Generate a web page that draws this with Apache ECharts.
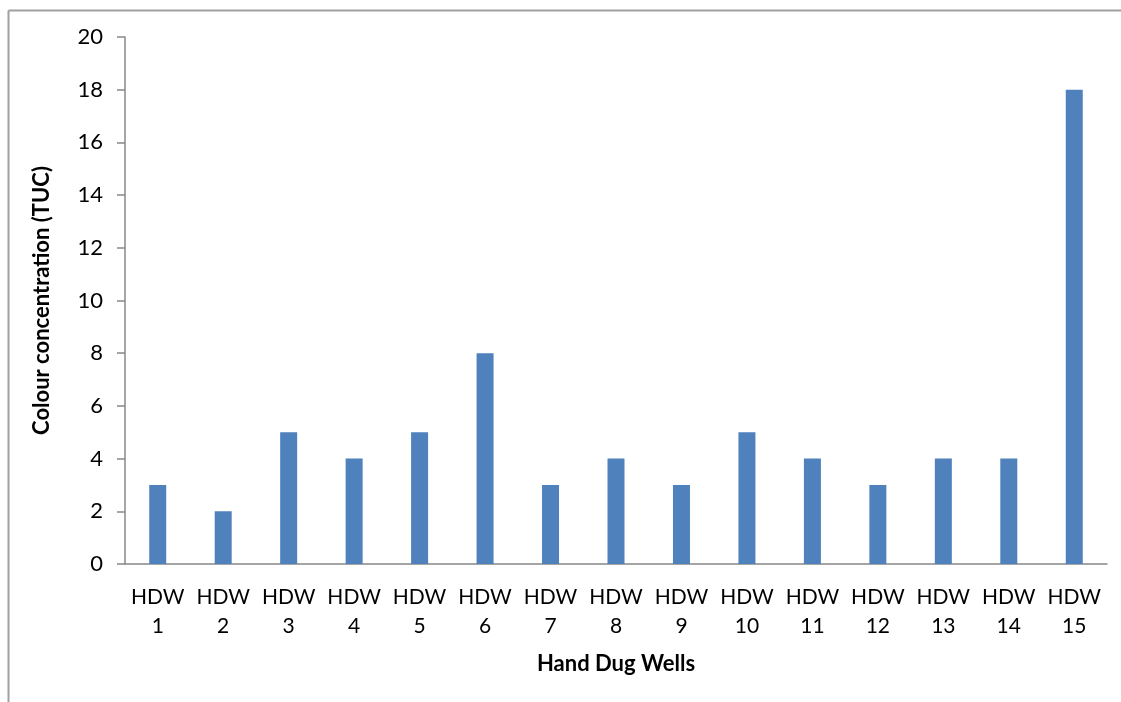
<!DOCTYPE html>
<html>
<head>
<meta charset="utf-8">
<script src="https://cdn.jsdelivr.net/npm/echarts@6/dist/echarts.min.js"></script>
<style>
html,body{margin:0;padding:0;background:#fff;}
#c{width:1121px;height:702px;}
</style>
</head>
<body>
<div id="c"></div>
<script>
const categories = ["HDW 1","HDW 2","HDW 3","HDW 4","HDW 5","HDW 6","HDW 7","HDW 8","HDW 9","HDW 10","HDW 11","HDW 12","HDW 13","HDW 14","HDW 15"];
const values = [3,2,5,4,5,8,3,4,3,5,4,3,4,4,18];
const yTitle = "Colour concentration (TUC)";
const xTitle = "Hand Dug Wells";

const chart = echarts.init(document.getElementById('c'));
const font = 'Lato, "Liberation Sans", sans-serif';
chart.setOption({
  animation: false,
  backgroundColor: '#fff',
  graphic: [
    {type:'line', shape:{x1:8.5,y1:10.5,x2:1121,y2:10.5}, style:{stroke:'#a0a0a0', lineWidth:2}},
    {type:'line', shape:{x1:8.5,y1:10.5,x2:8.5,y2:702}, style:{stroke:'#a0a0a0', lineWidth:2}}
  ],
  grid: {left:125, right:14, top:37, bottom:138, containLabel:false},
  xAxis: {
    type:'category', data:categories,
    axisLine:{show:true, lineStyle:{color:'#888', width:1.5}},
    axisTick:{show:false},
    axisLabel:{interval:0, margin:19, color:'#000', fontFamily:font, fontSize:21, lineHeight:29,
      formatter: v => v.replace(' ', '\n')},
    name:xTitle, nameLocation:'middle', nameGap:89,
    nameTextStyle:{color:'#000', fontFamily:font, fontSize:22, fontWeight:'bold'}
  },
  yAxis: {
    type:'value', min:0, max:20, interval:2,
    axisLine:{show:true, lineStyle:{color:'#888', width:1.5}},
    axisTick:{show:true, length:8, lineStyle:{color:'#888', width:1.5}},
    splitLine:{show:false},
    axisLabel:{margin:22, color:'#000', fontFamily:font, fontSize:22},
    name:yTitle, nameLocation:'middle', nameGap:72, nameRotate:90,
    nameTextStyle:{color:'#000', fontFamily:font, fontSize:22, fontWeight:'bold'}
  },
  series: [{
    type:'bar', data:values, barWidth:17,
    itemStyle:{color:'#4F81BD'}
  }]
});
</script>
</body>
</html>
